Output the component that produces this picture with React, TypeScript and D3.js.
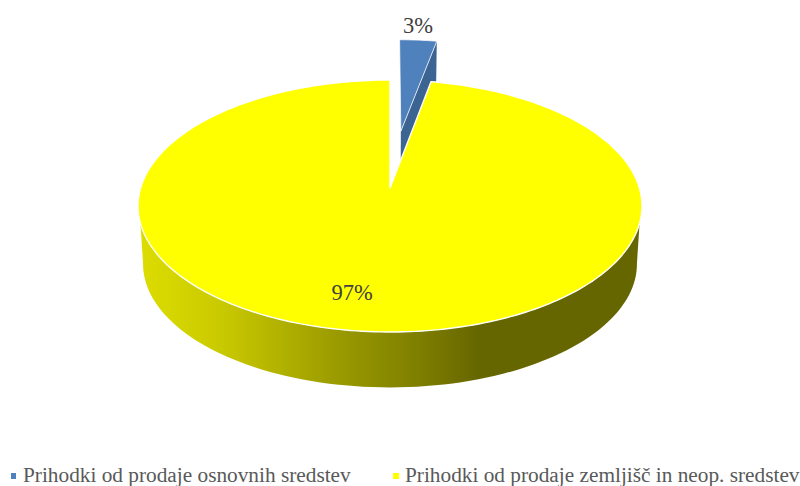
import React from "react"
import * as d3 from "d3"

const categories = ["Prihodki od prodaje osnovnih sredstev", "Prihodki od prodaje zemljišč in neop. sredstev"]
const shares = [3, 97]
const topColors = ["#4f81bd", "#ffff00"]
const wallColor = "#3c6493"
const wallStops = [
    [0, "#dcdc00"],
    [0.16, "#c9c900"],
    [0.4, "#999900"],
    [0.55, "#808000"],
    [0.68, "#666600"],
    [1, "#666600"],
] as [number, string][]

const width = 800
const height = 486
const cx = 390
const cy = 188
const persp = 1 / 7
const radiusX = 249.4
const radiusY = 123.43
const depth = 58.3
const floorScale = 0.98
const explode = 0.494
const explodedRadius = 0.958

// disc coords to screen, with the same perspective the tilted pie has
function project(u: number, v: number, floor = false) {
    const w = 1 - persp * v
    const s = floor ? floorScale : 1
    return [cx + s * radiusX * u / w, cy + (floor ? depth : 0) + s * radiusY * v / w] as [number, number]
}

function rim(a: number, r = 1, ox = 0, oy = 0, floor = false) {
    return project(ox + r * Math.sin(a), oy - r * Math.cos(a), floor)
}

function samples(a0: number, a1: number, n = 90) {
    return d3.range(n + 1).map(i => a0 + (a1 - a0) * i / n)
}

const line = d3.line()

export default function App() {
    const arcs = d3.pie<number>().sort(null).value(d => d)(shares)
    const [blue, yellow] = arcs

    const mid = (blue.startAngle + blue.endAngle) / 2
    const ox = explode * Math.sin(mid)
    const oy = -explode * Math.cos(mid)

    const blueRim = samples(blue.startAngle, blue.endAngle, 12).map(a => rim(a, explodedRadius, ox, oy))
    const blueTip = project(ox, oy)
    const blueCorner = rim(blue.endAngle, explodedRadius, ox, oy)
    const blueFloorTip = project(ox, oy, true)
    const blueFloorCorner = rim(blue.endAngle, explodedRadius, ox, oy, true)

    const yellowRim = samples(yellow.startAngle, yellow.endAngle, 300).map(a => rim(a))

    const deg = Math.PI / 180
    const wallTop = samples(106 * deg, 254 * deg).map(a => rim(a))
    const wallFloor = samples(262 * deg, 98 * deg).map(a => rim(a, 1, 0, 0, true))

    return (
        <svg width={width} height={height} style={{ position: "absolute", left: 0, top: 0, background: "#fff" }}
             fontFamily="'Liberation Serif', serif">
            <defs>
                <linearGradient id="wall" gradientUnits="userSpaceOnUse" x1={cx - 247} x2={cx + 247} y1={0} y2={0}>
                    {wallStops.map((d, i) => <stop key={i} offset={d[0]} stopColor={d[1]} />)}
                </linearGradient>
            </defs>

            <path d={line([blueTip, blueCorner, blueFloorCorner, blueFloorTip])! + "Z"} fill={wallColor} />
            <path d={line([blueTip, ...blueRim])! + "Z"} fill={topColors[0]} stroke="#fff" strokeOpacity={0.75} strokeWidth={1} strokeLinejoin="round" />

            <path d={line([...wallTop, ...wallFloor])! + "Z"} fill="url(#wall)" />
            <path d={line([project(0, 0), ...yellowRim])! + "Z"} fill={topColors[1]} stroke="#fff" strokeWidth={1.4} strokeLinejoin="round" />

            <text x={418} y={33} textAnchor="middle" fontSize={22.5} fill="#404040">{shares[0]}%</text>
            <text x={352} y={300} textAnchor="middle" fontSize={22.5} fill="#404040">{shares[1]}%</text>

            <rect x={11} y={473} width={5} height={6} fill={topColors[0]} />
            <text x={23} y={482} fontSize={21.3} fill="#595959">{categories[0]}</text>
            <rect x={393} y={473} width={6} height={6} fill={topColors[1]} />
            <text x={405} y={482} fontSize={21.3} fill="#595959">{categories[1]}</text>
        </svg>
    )
}
